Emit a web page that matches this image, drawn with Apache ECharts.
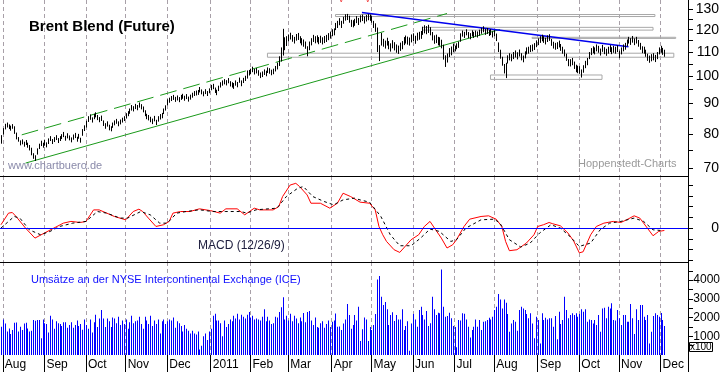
<!DOCTYPE html>
<html><head><meta charset="utf-8">
<script src="https://cdn.jsdelivr.net/npm/echarts@6/dist/echarts.min.js"></script>
<style>html,body{margin:0;padding:0;background:#fff}#c{width:723px;height:372px}</style>
</head><body><div id="c"></div>
<script>
// ---------- data ----------
const monthNames = ['Jan','Feb','Mar','Apr','May','Jun','Jul','Aug','Sep','Oct','Nov','Dec'];
// trading-day categories (weekdays) starting 2010-07-30
const categories = [];
{
  const d = new Date(Date.UTC(2010, 6, 30));
  while (categories.length < 364) {
    const wd = d.getUTCDay();
    if (wd !== 0 && wd !== 6) categories.push(d.toISOString().slice(0, 10));
    d.setUTCDate(d.getUTCDate() + 1);
  }
}
const isMonthStart = categories.map((c, i) => i > 0 && c.slice(5, 7) !== categories[i - 1].slice(5, 7));

const priceLow = [
 77.0,79.8,81.4,82.0,81.5,81.0,81.6,80.0,78.3,77.6,76.5,76.8,76.1,76.6,75.8,75.0,73.6,72.6,72.0,73.8,75.4,76.3,75.8,
 76.4,75.9,76.9,77.8,76.9,77.5,78.1,77.2,77.8,78.4,79.0,77.9,78.6,78.0,77.4,78.2,78.7,77.6,78.5,77.3,79.4,80.9,
 82.0,83.8,84.5,83.6,84.7,85.3,84.4,83.7,84.1,82.5,81.6,82.3,81.1,80.8,81.9,82.7,83.2,82.4,83.0,83.6,84.1,
 84.9,85.7,86.5,87.6,87.3,88.1,87.7,88.6,88.0,87.0,85.7,84.7,84.3,83.7,83.1,84.0,82.8,83.9,84.6,85.0,86.4,87.6,
 89.4,90.3,90.9,91.3,90.6,91.1,90.5,91.3,91.7,91.0,91.6,90.7,91.4,92.1,92.7,92.9,93.1,94.0,93.3,92.6,93.4,92.7,93.7,
 94.8,95.2,93.8,93.0,94.5,95.8,96.5,97.0,96.6,97.4,96.2,95.8,95.3,96.5,95.9,97.6,96.3,97.5,98.3,99.2,100.4,
 100.9,101.7,100.8,101.2,100.3,99.4,99.8,100.6,100.1,101.4,101.1,100.5,100.9,102.0,102.8,104.2,106.0,108.5,110.8,112.6,
 114.6,115.5,114.5,113.7,115.0,115.3,113.8,112.9,112.3,111.4,108.2,110.8,112.9,114.4,113.8,114.2,113.4,114.0,113.3,113.9,114.4,115.2,115.9,
 117.0,117.4,119.8,120.8,122.1,120.8,122.8,124.3,124.6,123.3,121.3,121.1,121.8,123.1,122.2,123.5,124.1,122.9,123.9,124.5,124.2,
 123.3,120.8,119.0,110.0,106.2,112.8,112.3,111.5,112.8,111.2,110.2,111.6,110.7,109.7,109.2,110.5,111.2,113.0,113.7,113.2,112.8,114.2,
 114.7,113.6,115.0,115.4,115.8,117.6,118.3,117.9,118.5,117.4,115.1,113.6,113.9,112.9,112.7,111.6,106.8,103.8,105.6,107.9,108.6,109.9,
 110.3,111.2,111.8,114.5,116.8,116.2,117.4,116.1,115.6,116.9,116.2,116.8,116.4,117.2,118.1,118.8,117.6,118.0,117.1,117.5,116.4,
 117.0,114.8,110.0,107.2,104.3,101.2,99.4,105.2,106.5,106.1,107.0,107.7,106.9,108.1,106.5,105.7,107.3,109.0,109.3,110.0,110.3,110.9,112.1,
 113.0,114.0,114.7,114.0,113.3,114.4,114.9,112.7,111.5,111.0,111.3,112.0,110.5,109.3,108.1,106.3,104.1,104.0,104.5,103.0,101.7,101.3,
 101.1,99.6,101.5,103.3,104.5,107.0,108.7,109.5,109.0,110.3,109.7,108.5,110.1,109.1,108.4,109.3,110.0,109.1,109.7,109.3,110.0,
 107.4,109.0,110.3,111.0,112.5,113.7,113.1,114.1,113.0,113.7,112.3,111.0,109.5,109.3,108.0,106.3,105.5,106.1,106.5,105.8,107.0,109.0,
 109.7,108.8,108.0
];
const priceHigh = [
 79.6,81.8,83.2,83.6,83.0,82.6,83.1,82.4,80.4,79.0,78.0,78.3,77.6,78.1,77.3,76.6,75.8,74.2,73.6,75.6,77.0,77.9,77.3,
 78.2,77.4,78.6,79.3,78.4,79.0,79.6,78.7,79.3,79.9,80.6,79.4,80.2,79.5,78.9,79.8,80.3,79.1,80.0,78.8,81.5,82.7,
 84.2,85.7,86.3,85.3,86.5,87.0,86.1,85.4,85.9,84.3,83.4,84.0,82.9,82.4,83.6,84.3,84.8,84.0,84.6,85.2,85.7,
 86.7,87.4,88.3,89.5,89.1,89.9,89.5,90.4,89.8,89.0,87.7,86.5,86.1,85.5,84.9,85.8,84.5,85.7,86.4,86.8,88.3,89.4,
 91.5,92.1,92.7,93.1,92.4,92.9,92.3,93.1,93.5,92.8,93.4,92.5,93.2,93.9,94.5,94.7,94.9,96.0,95.1,94.4,95.2,94.5,95.5,
 96.8,97.2,95.8,95.0,96.5,97.8,98.5,99.0,98.6,99.4,98.2,97.8,97.5,98.5,97.9,99.6,98.5,99.5,100.3,102.4,102.6,
 103.1,103.9,103.0,103.4,102.5,101.6,102.0,102.8,102.3,103.6,103.3,102.7,103.1,104.2,105.6,108.2,112.0,120.4,116.5,117.0,
 117.8,118.6,117.5,116.7,118.0,118.5,117.0,116.1,115.5,114.6,112.5,114.6,116.1,117.6,117.0,117.4,116.6,117.2,116.5,117.1,117.6,118.4,119.1,
 120.2,120.6,123.2,124.2,125.5,124.2,126.2,127.4,127.6,126.7,124.7,124.5,125.2,126.5,125.6,126.9,127.3,126.3,127.1,127.5,127.3,
 126.5,124.2,123.0,121.0,113.0,118.5,115.8,115.0,116.3,114.8,113.8,115.2,114.3,113.3,112.8,114.1,114.8,116.6,117.3,116.8,116.4,117.8,
 118.3,117.2,118.6,119.0,119.4,121.4,122.1,121.7,122.3,121.2,118.9,117.4,117.7,116.7,116.5,115.4,113.2,108.6,109.4,111.7,112.4,113.7,
 112.8,113.8,114.6,118.3,119.6,119.0,120.2,118.9,118.4,119.7,119.0,119.6,119.2,120.0,120.9,121.6,120.4,120.8,119.9,120.3,119.2,
 119.8,118.2,114.2,111.0,108.0,105.0,105.5,108.6,109.5,109.1,110.0,110.7,109.9,111.1,109.5,108.5,110.3,112.0,112.3,113.0,113.3,113.9,115.1,
 116.0,117.0,117.7,117.0,116.3,117.4,117.9,115.7,114.5,114.0,114.3,115.0,113.5,112.3,111.1,109.3,107.1,107.0,107.5,106.0,104.7,104.3,
 104.1,102.8,104.5,106.3,107.5,110.0,111.7,112.5,112.0,113.3,112.7,111.5,113.1,112.1,111.4,112.3,113.0,112.1,112.7,112.3,113.0,
 110.6,112.0,113.3,114.0,115.5,116.7,116.1,117.1,116.0,116.7,115.3,114.0,112.5,112.3,111.0,109.3,108.5,109.1,109.5,108.8,110.0,112.0,
 112.7,111.8,111.0
];
// volume in units of 100 contracts
const volume = [
 1510,1900,1690,1250,1420,1120,1330,1730,1740,1250,1510,1330,1690,1730,1420,1250,1300,1870,1830,1870,1870,890,1900,
 1700,1650,1200,2100,1900,1400,1800,1700,1650,1550,1750,1750,1450,1600,1750,1450,1600,1850,1550,1650,1350,1900,
 1600,1400,1900,1200,1750,2150,1500,1950,2400,1950,1500,1950,1800,1500,2000,1950,1700,2050,1600,1850,1650,
 1900,1400,1750,2100,1700,1800,1850,2050,1650,1400,2050,1850,1650,2100,1550,1850,1650,1900,1150,1800,1900,1650,
 1800,1900,1850,2000,1450,1800,1700,1550,1250,1600,1400,1300,1150,1300,1150,1100,1250,300,500,1000,1150,800,1250,
 1400,2100,2200,1850,1850,1700,1000,1850,1500,1650,1900,1800,2100,1950,2200,1900,2150,2050,1950,2150,2300,
 2000,2100,1900,1950,1900,1850,2050,2440,1800,2050,1850,1650,1700,2050,2000,2300,2550,3080,1900,2100,
 1850,2200,1800,2100,1950,1700,2000,1800,2250,1750,2300,2350,1850,1600,2000,1500,1450,1700,1800,1450,1650,1850,1500,
 1780,1850,2220,1510,1520,1330,1690,1900,2720,2140,1400,1600,2140,1850,2580,750,1370,2010,1900,750,1500,
 1330,1600,2190,4040,4220,3115,2670,2830,2440,1600,2140,2280,1815,2140,1900,1900,2440,1335,1550,1800,230,1690,
 2190,1900,1510,2400,2580,2140,1900,2350,1550,1700,3115,2440,2140,2260,2225,4575,2580,2050,2080,2260,1960,1550,
 1500,410,1870,1840,2225,2200,1900,1510,940,1335,1510,1900,1510,1870,1335,1780,1800,1870,1990,1900,2050,
 2400,2580,3260,2970,2490,2970,2790,2190,1245,1690,1870,1780,1300,2400,2580,2490,2400,2190,1960,2225,1690,890,2050,
 1870,620,2225,1870,1990,1900,1960,1960,1510,2080,840,2310,1655,1870,3115,2400,1960,2140,2225,2140,2225,2050,
 2190,2440,2310,2440,1780,1900,1870,1690,1870,1600,2140,1245,2490,2530,1960,2580,2490,2760,1870,1840,2400,
 1960,1600,2140,2140,1780,1780,2720,1960,1120,2440,1870,2670,2670,2050,1870,2140,620,1245,2080,2225,2140,2050,
 2250,1870,1550
];
// MACD (12/26/9): [trading-day index, value]
const macdLine = [
 [0,0.31],[4,1.39],[6,1.45],[8,1.08],[13,0],[18,-0.93],[23,-0.46],[28,0],[33,0.46],[37,0.62],[42,0.52],[45,0.62],
 [49,1.69],[52,1.69],[56,1.39],[60,1.08],[66,0.77],[70,1.54],[73,1.76],[75,1.54],[78,0.93],[82,0.15],[86,0.31],
 [89,0.62],[91,1.39],[95,1.54],[100,1.54],[105,1.79],[111,1.62],[116,1.39],[119,1.79],[125,1.79],[129,1.23],
 [134,1.85],[137,1.69],[144,1.69],[147,2.0],[149,2.93],[153,4.0],[156,4.16],[158,3.86],[162,3.08],[164,2.31],
 [169,2.31],[174,1.85],[178,2.31],[181,3.24],[185,2.93],[190,2.41],[195,2.31],[198,1.70],[200,0.15],[202,-0.62],
 [204,-1.24],[208,-2.01],[211,-2.26],[217,-1.08],[221,-0.62],[224,0.15],[227,0.62],[230,-0.16],[233,-0.93],
 [236,-1.85],[239,-1.55],[241,-1.08],[245,0.15],[248,0.83],[254,1.08],[258,1.14],[262,0.83],[265,0.15],
 [267,-1.24],[269,-2.10],[273,-2.01],[278,-1.39],[282,-0.62],[284,0.15],[287,0.31],[290,0.52],[292,0.40],
 [296,0.21],[300,-0.46],[303,-1.2],[306,-2.3],[308,-2.2],[312,-0.62],[315,0.15],[319,0.46],[324,0.62],[328,0.52],
 [331,0.77],[335,1.14],[338,0.93],[342,0],[345,-0.71],[348,-0.31],[351,-0.22]
];
const signalLine = [
 [0,0],[7,1.08],[10,0.93],[15,-0.16],[21,-0.62],[26,-0.31],[31,0.15],[38,0.46],[45,0.62],[51,1.54],[56,1.39],
 [63,0.93],[67,0.93],[74,1.54],[79,1.23],[84,0.46],[88,0.46],[93,1.39],[98,1.54],[105,1.70],[112,1.54],
 [119,1.54],[127,1.54],[130,1.39],[135,1.70],[146,1.85],[151,2.93],[157,3.70],[160,3.86],[165,2.93],[171,2.47],
 [176,2.16],[181,2.62],[187,2.78],[190,2.62],[195,2.41],[201,1.08],[206,-0.62],[211,-1.64],[217,-1.64],
 [222,-0.93],[227,-0.09],[232,-0.31],[238,-1.24],[241,-1.08],[246,0],[254,0.77],[261,0.83],[264,0.46],
 [269,-1.08],[275,-1.76],[280,-1.39],[285,-0.46],[291,0.31],[296,0],[301,-0.77],[306,-1.70],[312,-1.39],
 [317,-0.16],[322,0.46],[328,0.62],[335,0.93],[340,0.62],[345,-0.16],[349,-0.22]
];
// drawn annotations (trading-day index, price)
const channelLower = [[13, 71.4], [264, 120.1]];
const channelUpper = [[11, 79.7], [236, 127.8]];
const downTrend = [[191, 128.3], [332, 112.3]];
const zones = [
 [[177, 127.3], [346, 126.3]],
 [[223, 121.1], [345, 119.8]],
 [[281, 116.5], [357, 116.0]],
 [[141, 109.5], [356, 107.8]],
 [[259, 100.6], [318, 98.9]]
];
const signalMarks = [180, 194];
const priceTicks = [70,75,80,85,90,95,100,105,110,115,120,125,130];
const priceLabels = [70,80,90,100,110,120,130];
const priceRange = [67.9, 134.7];
const macdTicks = [-3,-2,-1,0,1,2,3,4];
const macdLabels = [0];
const macdRange = [-3.15, 4.84];
const volTicks = [500,1000,1500,2000,2500,3000,3500,4000,4500];
const volLabels = [1000,2000,3000,4000];
const volRange = [0, 4970];

// ---------- chart ----------
const FONT = 'Liberation Sans, Arial, sans-serif';
const chart = echarts.init(document.getElementById('c'), null, {renderer: 'canvas'});
const monthInterval = (i) => isMonthStart[i];
const gridLine = {show: true, interval: monthInterval, alignWithLabel: true,
  lineStyle: {color: '#a8a0a8', type: [4, 3], width: 1}};
function xAx(g, opts) {
  return Object.assign({
    type: 'category', gridIndex: g, data: categories, boundaryGap: true,
    axisLine: {show: true, onZero: false, lineStyle: {color: '#000', width: 1}},
    axisTick: {show: false}, axisLabel: {show: false}, splitLine: gridLine
  }, opts || {});
}
const lnTicks = priceTicks.map(Math.log), lnLabels = priceLabels.map(Math.log);

chart.setOption({
  animation: false,
  backgroundColor: '#fff',
  textStyle: {fontFamily: FONT},
  title: [
    {text: 'Brent Blend (Future)', left: 29, top: 19, padding: 0,
     textStyle: {fontFamily: FONT, fontSize: 15, fontWeight: 'bold', color: '#000'}},
    {text: 'www.chartbuero.de', left: 8, top: 160, padding: 0,
     textStyle: {fontFamily: FONT, fontSize: 11, fontWeight: 'normal', color: '#8a8aaa'}},
    {text: 'Hoppenstedt-Charts', left: 578, top: 158, padding: 0,
     textStyle: {fontFamily: FONT, fontSize: 11, fontWeight: 'normal', color: '#9a9a9a'}},
    {text: 'MACD (12/26/9)', left: 198, top: 240, padding: 0,
     textStyle: {fontFamily: FONT, fontSize: 12, fontWeight: 'normal', color: '#202040'}},
    {text: 'Umsätze an der NYSE Intercontinental Exchange (ICE)', left: 31, top: 274, padding: 0,
     textStyle: {fontFamily: FONT, fontSize: 11, fontWeight: 'normal', color: '#1010ff'}},
    {text: 'x100', left: 689, top: 342, padding: [0, 1, 0, 1], borderWidth: 1, borderColor: '#000',
     textStyle: {fontFamily: FONT, fontSize: 10, fontWeight: 'normal', color: '#000'}}
  ],
  grid: [
    {left: 0, right: 35, top: 0, height: 176},
    {left: 0, right: 35, top: 176, height: 86},
    {left: 0, right: 35, top: 262, height: 93}
  ],
  xAxis: [
    xAx(0), xAx(1),
    xAx(2, {
      axisLine: {show: false},
      axisTick: {show: true, interval: monthInterval, alignWithLabel: true, length: 17,
                 lineStyle: {color: '#000', width: 1}},
      axisLabel: {show: true, interval: monthInterval, align: 'left', margin: 4, padding: [0, 0, 0, 2],
        fontFamily: FONT, fontSize: 12, color: '#000',
        formatter: (v) => { const m = +v.slice(5, 7); return m === 1 ? v.slice(0, 4) : monthNames[m - 1]; }}
    })
  ],
  yAxis: [
    {type: 'log', logBase: 10, gridIndex: 0, min: priceRange[0], max: priceRange[1], show: false},
    {type: 'value', gridIndex: 0, position: 'right', min: Math.log(priceRange[0]), max: Math.log(priceRange[1]),
     axisLine: {show: true, lineStyle: {color: '#000'}},
     axisTick: {show: true, length: 5, customValues: lnTicks, lineStyle: {color: '#000'}},
     axisLabel: {show: true, customValues: lnLabels, align: 'right', margin: 31, fontFamily: FONT, fontSize: 14, color: '#000',
       formatter: (v) => String(Math.round(Math.exp(v)))},
     splitLine: {show: false}},
    {type: 'value', gridIndex: 1, position: 'right', min: macdRange[0], max: macdRange[1],
     axisLine: {show: true, lineStyle: {color: '#000'}},
     axisTick: {show: true, length: 5, customValues: macdTicks, lineStyle: {color: '#000'}},
     axisLabel: {show: true, customValues: macdLabels, align: 'right', margin: 31, fontFamily: FONT, fontSize: 14, color: '#000',
       formatter: (v) => String(v)},
     splitLine: {show: false}},
    {type: 'value', gridIndex: 2, position: 'right', min: volRange[0], max: volRange[1],
     axisLine: {show: true, lineStyle: {color: '#000'}},
     axisTick: {show: true, length: 5, customValues: volTicks, lineStyle: {color: '#000'}},
     axisLabel: {show: true, customValues: volLabels, align: 'right', margin: 32, fontFamily: FONT, fontSize: 12, color: '#000',
       formatter: (v) => String(v)},
     splitLine: {show: false}}
  ],
  graphic: [
    {type: 'line', silent: true, shape: {x1: 688.5, y1: 355, x2: 688.5, y2: 372}, style: {stroke: '#000', lineWidth: 1}}
  ],
  series: [
    {type: 'line', name: 'channelLower', xAxisIndex: 0, yAxisIndex: 0, data: channelLower, symbol: 'none', silent: true,
     lineStyle: {color: '#1a9a1a', width: 1}, z: 2,
     markArea: {silent: true, itemStyle: {color: 'rgba(0,0,0,0)', borderColor: '#a8a8a8', borderWidth: 1},
       data: zones.map(z => [{xAxis: z[0][0], yAxis: z[0][1]}, {xAxis: z[1][0], yAxis: z[1][1]}])}},
    {type: 'line', name: 'channelUpper', xAxisIndex: 0, yAxisIndex: 0, data: channelUpper, symbol: 'none', silent: true,
     lineStyle: {color: '#1a9a1a', width: 1, type: [17, 7]}, z: 2},
    {type: 'line', name: 'downTrend', xAxisIndex: 0, yAxisIndex: 0, data: downTrend, symbol: 'none', silent: true,
     lineStyle: {color: '#0000ee', width: 1.5}, z: 2},
    {type: 'custom', name: 'price', xAxisIndex: 0, yAxisIndex: 0, z: 3, silent: true,
     data: priceLow.map((lo, i) => [i, lo, priceHigh[i]]),
     encode: {x: 0, y: [1, 2]},
     renderItem: (params, api) => {
       const i = api.value(0);
       const a = api.coord([i, api.value(1)]);
       const b = api.coord([i, api.value(2)]);
       const x = Math.round(a[0]) + 0.5;
       return {type: 'line', shape: {x1: x, y1: a[1], x2: x, y2: b[1]}, style: {stroke: '#000', lineWidth: 1}};
     }},
    {type: 'scatter', name: 'signals', xAxisIndex: 0, yAxisIndex: 0, silent: true, symbolSize: 1,
     itemStyle: {color: 'rgba(0,0,0,0)'},
     data: signalMarks.map(i => [i, priceRange[1]]),
     label: {show: true, position: 'inside', formatter: 'v', color: '#ee0000', fontSize: 9, fontFamily: FONT, offset: [0, 0]}},
    {type: 'line', name: 'MACD', xAxisIndex: 1, yAxisIndex: 2, data: macdLine, symbol: 'none', silent: true,
     lineStyle: {color: '#ff0000', width: 1}, z: 3,
     markLine: {silent: true, symbol: ['none', 'none'], label: {show: false},
       lineStyle: {color: '#0000ff', width: 1, type: 'solid'}, data: [{yAxis: 0}]}},
    {type: 'line', name: 'Signal', xAxisIndex: 1, yAxisIndex: 2, data: signalLine, symbol: 'none', silent: true,
     lineStyle: {color: '#000', width: 1, type: [3, 3]}, z: 3},
    {type: 'custom', name: 'volume', xAxisIndex: 2, yAxisIndex: 3, silent: true,
     data: volume.map((v, i) => [i, v]), encode: {x: 0, y: 1},
     renderItem: (params, api) => {
       const i = api.value(0);
       const t = api.coord([i, api.value(1)]);
       const b = api.coord([i, 0]);
       const x = Math.round(t[0]);
       return {type: 'rect', shape: {x: x, y: t[1], width: 1, height: b[1] - t[1]}, style: {fill: '#0000ff'}};
     }}
  ]
});
</script>
</body></html>
